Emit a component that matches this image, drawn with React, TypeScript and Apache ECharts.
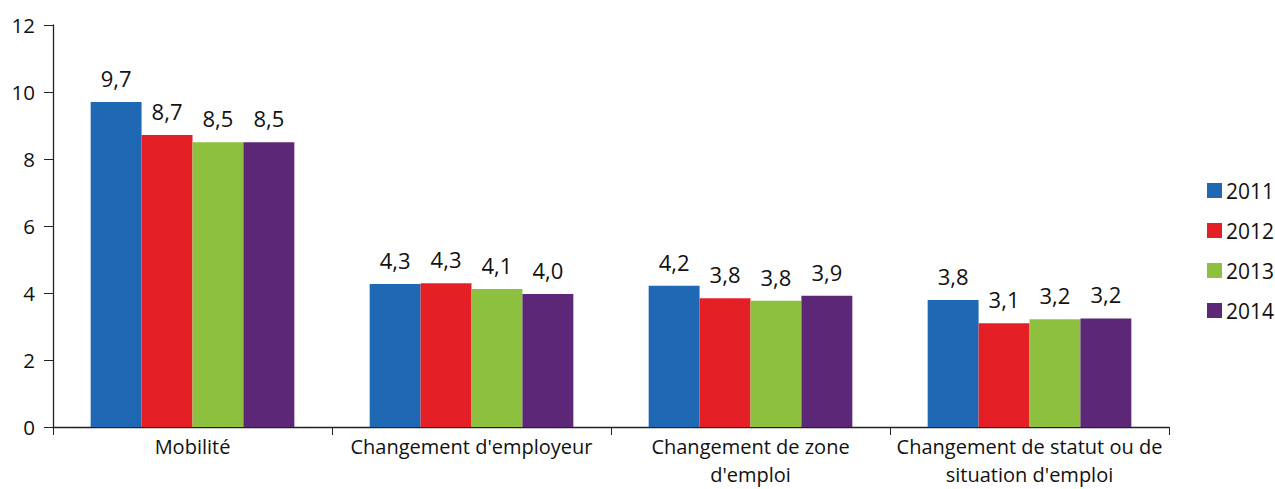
import React, { useEffect, useRef } from "react";
import * as echarts from "echarts";

const categories = [
  "Mobilité",
  "Changement d'employeur",
  "Changement de zone\nd'emploi",
  "Changement de statut ou de\nsituation d'emploi",
];
const years = ["2011", "2012", "2013", "2014"];
const values2011 = [9.7, 4.27, 4.22, 3.79];
const values2012 = [8.72, 4.29, 3.84, 3.1];
const values2013 = [8.5, 4.12, 3.77, 3.22];
const values2014 = [8.5, 3.97, 3.92, 3.24];
const colors = ["#1f69b4", "#e41f26", "#8dc03f", "#5c2776"];

export default function App() {
  const ref = useRef<HTMLDivElement>(null);
  useEffect(() => {
    if (!ref.current) return;
    const chart = echarts.init(ref.current, undefined, { renderer: "svg" });
    const font = "'Open Sans', 'Noto Sans', sans-serif";
    const seriesData = [values2011, values2012, values2013, values2014];
    chart.setOption({
      animation: false,
      textStyle: { fontFamily: font },
      grid: {
        left: 53,
        right: 106,
        top: 25,
        bottom: 62,
        containLabel: false,
        outerBoundsMode: "none",
      },
      legend: {
        orient: "vertical",
        left: 1207,
        top: 180,
        padding: 0,
        itemWidth: 15,
        itemHeight: 15,
        itemGap: 19,
        icon: "rect",
        textStyle: { fontSize: 21, color: "#111", fontFamily: font, padding: [0, 0, 0, -1] },
        data: years,
      },
      xAxis: {
        type: "category",
        data: categories,
        axisLine: { lineStyle: { color: "#222", width: 1.3 } },
        axisTick: { show: true, length: 8, lineStyle: { color: "#222" }, alignWithLabel: false },
        axisLabel: {
          fontSize: 20,
          color: "#111",
          margin: 6,
          lineHeight: 27.5,
          interval: 0,
          fontFamily: font,
        },
      },
      yAxis: {
        type: "value",
        min: 0,
        max: 12,
        interval: 2,
        splitLine: { show: false },
        axisLine: { show: true, lineStyle: { color: "#222", width: 1.3 } },
        axisTick: { show: true, length: 9, lineStyle: { color: "#222" } },
        axisLabel: { fontSize: 20.5, color: "#111", margin: 18, fontFamily: font },
      },
      series: years.map((y, i) => ({
        name: y,
        type: "bar",
        data: seriesData[i],
        barGap: "0%",
        barCategoryGap: "27%",
        itemStyle: { color: colors[i] },
        label: {
          show: true,
          position: "top",
          distance: 13,
          fontSize: 22,
          color: "#111",
          fontFamily: font,
          formatter: (p: any) => Number(p.value).toFixed(1).replace(".", ","),
        },
      })),
    });
    return () => chart.dispose();
  }, []);
  return (
    <div
      ref={ref}
      style={{ position: "absolute", left: 0, top: 0, width: 1275, height: 489 }}
    />
  );
}
